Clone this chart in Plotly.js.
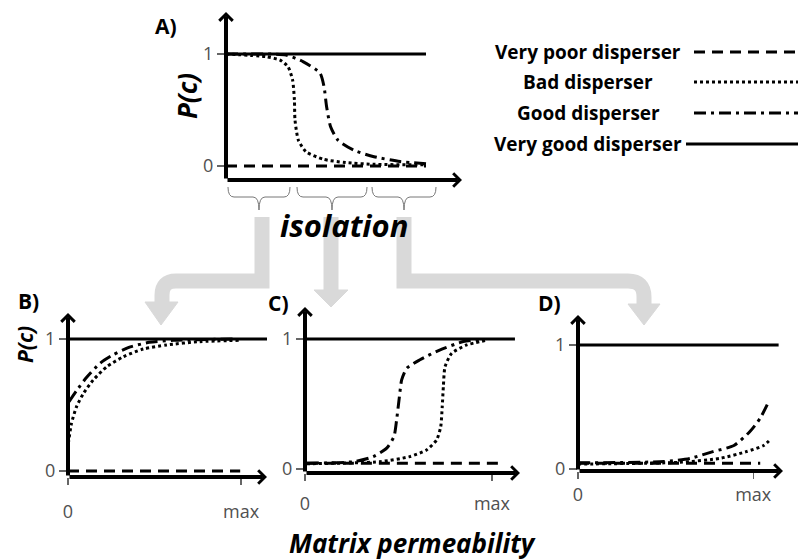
<!DOCTYPE html>
<html><head><meta charset="utf-8">
<script src="https://cdn.plot.ly/plotly-3.0.1.min.js"></script>
<style>html,body{margin:0;padding:0;background:#fff}</style>
</head><body>
<div id="chart" style="width:798px;height:560px"></div>
<script>
// ---------------- data ----------------
const seriesNames = ['Very poor disperser', 'Bad disperser', 'Good disperser', 'Very good disperser'];
const panelLabels = ['A)', 'B)', 'C)', 'D)'];
const yTickVals = [0, 1];
const yTickText = ['0', '1'];
const xTickVals = [0, 1];
const xTickText = ['0', 'max'];
const axisTitleY = 'P(c)';
const axisTitleA = 'isolation';
const axisTitleBCD = 'Matrix permeability';

// Panel A : P(c) against isolation
const aVeryPoorX = [0, 1.0];
const aVeryPoorY = [0, 0];
const aBadX = [0, 0.20, 0.27, 0.31, 0.333, 0.342, 0.345, 0.362, 0.40, 0.487, 0.60, 0.74, 1.0];
const aBadY = [1.0, 0.976, 0.946, 0.887, 0.768, 0.59, 0.41, 0.23, 0.128, 0.06, 0.03, 0.015, 0.01];
const aGoodX = [0, 0.30, 0.387, 0.47, 0.49, 0.503, 0.523, 0.56, 0.64, 0.74, 0.87, 1.0];
const aGoodY = [1.0, 0.99, 0.93, 0.83, 0.71, 0.53, 0.35, 0.23, 0.14, 0.083, 0.04, 0.02];
const aVeryGoodX = [0, 1.0];
const aVeryGoodY = [1, 1];

// Panel B : low isolation, P(c) against matrix permeability
const bVeryPoorX = [0, 0.995];
const bVeryPoorY = [0, 0];
const bBadX = [0.002, 0.02, 0.05, 0.09, 0.146, 0.224, 0.32, 0.435, 0.57, 0.76, 0.99];
const bBadY = [0.21, 0.36, 0.49, 0.59, 0.69, 0.79, 0.866, 0.924, 0.955, 0.98, 0.99];
const bGoodX = [0.006, 0.05, 0.108, 0.185, 0.26, 0.36, 0.47, 0.61, 0.96];
const bGoodY = [0.525, 0.61, 0.71, 0.816, 0.88, 0.94, 0.975, 0.99, 1.0];
const bVeryGoodX = [0, 1.15];
const bVeryGoodY = [1, 1];

// Panel C : medium isolation
const cVeryPoorX = [0.01, 1.05];
const cVeryPoorY = [0.044, 0.044];
const cBadX = [0.01, 0.40, 0.56, 0.65, 0.704, 0.726, 0.734, 0.74, 0.749, 0.785, 0.865, 0.97];
const cBadY = [0.04, 0.056, 0.095, 0.146, 0.223, 0.326, 0.48, 0.633, 0.787, 0.89, 0.954, 0.99];
const cGoodX = [0.01, 0.26, 0.365, 0.437, 0.476, 0.49, 0.505, 0.517, 0.544, 0.615, 0.72, 0.847, 0.953];
const cGoodY = [0.044, 0.056, 0.095, 0.16, 0.25, 0.377, 0.556, 0.685, 0.775, 0.84, 0.915, 0.98, 1.0];
const cVeryGoodX = [0, 1.123];
const cVeryGoodY = [1, 1];

// Panel D : high isolation
const dVeryPoorX = [0, 1.04];
const dVeryPoorY = [0.046, 0.046];
const dBadX = [0, 0.58, 0.81, 0.96, 1.06, 1.10];
const dBadY = [0.04, 0.054, 0.086, 0.14, 0.19, 0.24];
const dGoodX = [0, 0.49, 0.64, 0.77, 0.89, 0.98, 1.04, 1.08];
const dGoodY = [0.05, 0.06, 0.086, 0.14, 0.19, 0.30, 0.41, 0.52];
const dVeryGoodX = [0, 1.145];
const dVeryGoodY = [1, 1];

// ---------------- styling ----------------
const W = 798, H = 560;
const px = v => v / W;
const py = v => 1 - v / H;
const FONT = '"Open Sans", Lato, sans-serif';
const dashStyles = ['11px,7px', '3px,3px', '12px,5px,3px,5px', 'solid'];
const LW = 3;

function curveTraces(xs, ys, axisSuffix) {
  return xs.map((x, i) => ({
    type: 'scatter', mode: 'lines', x: x, y: ys[i], name: seriesNames[i],
    xaxis: 'x' + axisSuffix, yaxis: 'y' + axisSuffix, cliponaxis: false,
    line: {color: '#000', width: LW, dash: dashStyles[i], shape: 'spline', smoothing: 0.6},
    hoverinfo: 'skip', showlegend: false
  }));
}

const traces = [].concat(
  curveTraces([aVeryPoorX, aBadX, aGoodX, aVeryGoodX], [aVeryPoorY, aBadY, aGoodY, aVeryGoodY], ''),
  curveTraces([bVeryPoorX, bBadX, bGoodX, bVeryGoodX], [bVeryPoorY, bBadY, bGoodY, bVeryGoodY], '2'),
  curveTraces([cVeryPoorX, cBadX, cGoodX, cVeryGoodX], [cVeryPoorY, cBadY, cGoodY, cVeryGoodY], '3'),
  curveTraces([dVeryPoorX, dBadX, dGoodX, dVeryGoodX], [dVeryPoorY, dBadY, dGoodY, dVeryGoodY], '4')
);

// panel geometry in pixels: [left, right, bottom, top], ranges
const panels = [
  {s: '', box: [226, 462, 180, 12], xr: [0, 1.18], yr: [-0.125, 1.375], xticks: false, standoff: 0},
  {s: '2', box: [68, 267, 477, 313], xr: [0, 1.15], yr: [-0.045, 1.197], xticks: true, standoff: 11},
  {s: '3', box: [305, 520, 473, 307], xr: [0, 1.15], yr: [-0.031, 1.246], xticks: true, standoff: 7},
  {s: '4', box: [578, 783, 471, 315], xr: [0, 1.17], yr: [-0.016, 1.242], xticks: true, standoff: 0}
];

const layout = {
  width: W, height: H, margin: {l: 0, r: 0, t: 0, b: 0},
  paper_bgcolor: '#fff', plot_bgcolor: 'rgba(0,0,0,0)', showlegend: false,
  font: {family: FONT, color: '#000'},
  shapes: [], annotations: []
};

panels.forEach(p => {
  const [l, r, b, t] = p.box;
  layout['xaxis' + p.s] = {
    domain: [px(l), px(r)], range: p.xr, anchor: 'y' + p.s, fixedrange: true,
    showgrid: false, zeroline: false, showline: false,
    tickmode: 'array', tickvals: p.xticks ? xTickVals : [], ticktext: xTickText,
    ticks: p.xticks ? 'outside' : '', ticklen: 7, tickwidth: 1.2, tickcolor: '#666',
    ticklabelstandoff: p.standoff, showticklabels: p.xticks,
    tickfont: {family: FONT, size: 18, color: '#505050'}
  };
  layout['yaxis' + p.s] = {
    domain: [py(b), py(t)], range: p.yr, anchor: 'x' + p.s, fixedrange: true,
    showgrid: false, zeroline: false, showline: false,
    tickmode: 'array', tickvals: yTickVals, ticktext: yTickText,
    ticks: 'outside', ticklen: 8, tickwidth: 1.2, tickcolor: '#666',
    tickfont: {family: FONT, size: 18, color: '#505050'}
  };
  // axis arrows
  const xa = 'x' + p.s, ya = 'y' + p.s;
  layout.annotations.push({
    xref: xa, yref: ya, axref: xa, ayref: ya, x: p.xr[0], y: p.yr[1], ax: p.xr[0], ay: p.yr[0],
    text: '', showarrow: true, arrowhead: 4, arrowsize: 0.65, arrowwidth: 4, arrowcolor: '#000', standoff: 0
  });
  layout.annotations.push({
    xref: xa, yref: ya, axref: xa, ayref: ya, x: p.xr[1], y: p.yr[0], ax: p.xr[0], ay: p.yr[0],
    text: '', showarrow: true, arrowhead: 4, arrowsize: 0.65, arrowwidth: 4, arrowcolor: '#000', standoff: 0
  });
});

// text annotations
function txt(text, x, y, size, extra) {
  layout.annotations.push(Object.assign({
    xref: 'paper', yref: 'paper', x: px(x), y: py(y), xanchor: 'center', yanchor: 'middle',
    text: text, showarrow: false, font: {family: FONT, size: size, color: '#000'}
  }, extra || {}));
}
txt('<b>' + panelLabels[0] + '</b>', 166, 26, 21);
txt('<b>' + panelLabels[1] + '</b>', 28, 301, 21);
txt('<b>' + panelLabels[2] + '</b>', 278, 303, 21);
txt('<b>' + panelLabels[3] + '</b>', 549, 303, 21);
txt('<b><i>' + axisTitleY + '</i></b>', 187, 96, 26, {textangle: -90});
txt('<b><i>' + axisTitleY + '</i></b>', 25, 345, 21, {textangle: -90});
txt('<b><i>' + axisTitleA + '</i></b>', 344, 225, 31);
txt('<b><i>' + axisTitleBCD + '</i></b>', 412, 543, 26);

// legend (text left, line sample right)
const legY = [52, 82, 113, 144];
seriesNames.forEach((n, i) => {
  txt('<b>' + n + '</b>', 588, legY[i], 19);
  layout.shapes.push({
    type: 'line', xref: 'paper', yref: 'paper',
    x0: px(i === 3 ? 686 : 694), x1: px(798), y0: py(legY[i]), y1: py(legY[i]),
    line: {color: '#000', width: LW, dash: dashStyles[i]}
  });
});

// braces under isolation axis
function P(x, y) { return px(x).toFixed(5) + ',' + py(y).toFixed(5); }
[[228, 290], [297, 367], [372, 436]].forEach(([x0, x1]) => {
  const xc = (x0 + x1) / 2, yt = 187, ym = 197, yb = 210;
  const d = 'M' + P(x0, yt) + ' Q' + P(x0, ym) + ' ' + P(x0 + 6, ym) + ' L' + P(xc - 6, ym) +
            ' Q' + P(xc, ym) + ' ' + P(xc, yb) + ' Q' + P(xc, ym) + ' ' + P(xc + 6, ym) +
            ' L' + P(x1 - 6, ym) + ' Q' + P(x1, ym) + ' ' + P(x1, yt);
  layout.shapes.push({type: 'path', xref: 'paper', yref: 'paper', path: d, layer: 'below',
    line: {color: '#777', width: 1}});
});

// grey connector arrows
const G = '#d9d9d9';
const grey = [
  'M' + P(262, 217) + ' L' + P(262, 281) + ' L' + P(176, 281) + ' Q' + P(162, 281) + ' ' + P(162, 295) + ' L' + P(162, 304),
  'M' + P(331, 217) + ' L' + P(331, 292),
  'M' + P(404, 217) + ' L' + P(404, 281) + ' L' + P(628, 281) + ' Q' + P(644, 281) + ' ' + P(644, 297) + ' L' + P(644, 306)
];
grey.forEach(d => layout.shapes.push({type: 'path', xref: 'paper', yref: 'paper', path: d, layer: 'below',
  line: {color: G, width: 15}}));
const heads = [
  'M' + P(145, 302) + ' L' + P(178, 302) + ' L' + P(161, 325) + ' Z',
  'M' + P(314, 290) + ' L' + P(348, 290) + ' L' + P(331, 307) + ' Z',
  'M' + P(628, 304) + ' L' + P(660, 304) + ' L' + P(644, 325) + ' Z'
];
heads.forEach(d => layout.shapes.push({type: 'path', xref: 'paper', yref: 'paper', path: d, layer: 'below',
  fillcolor: G, line: {color: G, width: 1}}));

Plotly.newPlot('chart', traces, layout, {staticPlot: true, displayModeBar: false});
</script>
</body></html>
